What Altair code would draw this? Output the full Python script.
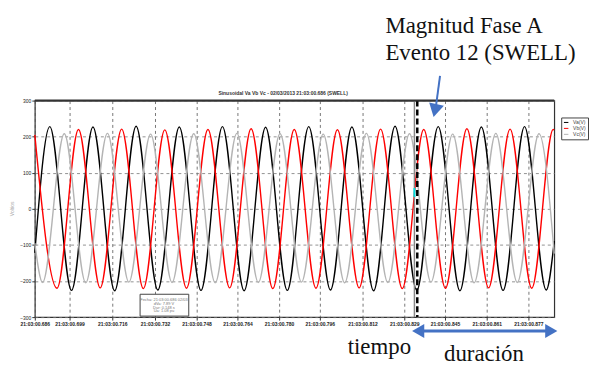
import altair as alt
import pandas as pd

# ---- data (time in ms, value in V) ----
series_names = ["Va(V)", "Vb(V)", "Vc(V)"]
series_colors = ["#000000", "#ff0000", "#b4b4b4"]

t_a = [0, 5.8, 14.2, 22.5, 30.9, 39.2, 47.6, 55.9, 64.3, 72.6, 81.0, 89.3, 97.7,
       106.0, 114.4, 122.7, 131.1, 139.4, 147.8, 156.1, 164.5, 172.8, 181.2, 189.5, 197.9, 201.0]
v_a = [-122, 228, -226, 227, -227, 229, -225, 227, -226, 228, -227, 226, -226,
       228, -225, 227, -227, 229, -226, 228, -227, 227, -226, 228, -225, -89]

t_b = [0, 8.6, 16.9, 25.3, 33.6, 42.0, 50.3, 58.7, 67.0, 75.4, 83.7, 92.1, 100.4,
       108.8, 117.1, 125.5, 133.8, 142.2, 150.5, 158.9, 167.2, 175.6, 183.9, 192.3, 200.6, 201.0]
v_b = [205, -220, 220, -219, 221, -221, 219, -220, 220, -219, 222, -221, 220,
       -220, 219, -219, 221, -221, 220, -220, 222, -219, 221, -220, 220, 219]

t_c = [0, 3.0, 11.4, 19.7, 28.1, 36.4, 44.8, 53.1, 61.5, 69.8, 78.2, 86.5, 94.9,
       103.2, 111.6, 119.9, 128.3, 136.6, 145.0, 153.3, 161.7, 170.0, 178.4, 186.7, 195.1, 201.0]
v_c = [-95, -204, 208, -205, 209, -203, 207, -204, 208, -205, 209, -204, 208,
       -203, 207, -205, 209, -204, 208, -203, 207, -205, 209, -204, 208, -124]

x_ticks = [0, 13.4, 30.0, 46.5, 62.6, 78.4, 94.5, 110.3, 126.8, 143.0, 158.7, 174.9, 191.0]
x_labels = ["21:03:00.686", "21:03:00.699", "21:03:00.716", "21:03:00.732", "21:03:00.748",
            "21:03:00.764", "21:03:00.780", "21:03:00.796", "21:03:00.812", "21:03:00.829",
            "21:03:00.845", "21:03:00.861", "21:03:00.877"]
y_ticks = [-300, -200, -100, 0, 100, 200, 300]

event_gray = [146.9]
event_black = [148.0]

info_lines = ["Fecha: 21:03:00.686 02/03", "dVa: 7.89 V", "Dur: 0.148 s", "Ua: 1.08 pu"]

rows = []
for name, ts, vs in zip(series_names, [t_a, t_b, t_c], [v_a, v_b, v_c]):
    for t, v in zip(ts, vs):
        rows.append({"fase": name, "t": t, "v": v})
df = pd.DataFrame(rows)

label_expr = " : ".join(
    f"abs(datum.value - {v}) < 0.05 ? '{l}'" for v, l in zip(x_ticks, x_labels)
) + " : ''"

W, H = 523, 218
xscale = alt.Scale(domain=[0, 201], nice=False)
yscale = alt.Scale(domain=[-300, 300], nice=False)

lines = alt.Chart(df).mark_line(strokeWidth=1.4, interpolate="monotone").encode(
    x=alt.X("t:Q", scale=xscale,
            axis=alt.Axis(values=x_ticks, labelExpr=label_expr, title=None,
                          labelFontSize=5, labelColor="#222", labelFontWeight="bold",
                          tickSize=3, tickColor="#333", domain=False,
                          grid=True, gridDash=[3, 3], gridColor="#555", gridWidth=0.8,
                          labelPadding=1, labelFlush=False)),
    y=alt.Y("v:Q", scale=yscale,
            axis=alt.Axis(values=y_ticks, title=None, labelFontSize=5, labelColor="#222",
                          tickSize=3, tickColor="#333", domain=False,
                          grid=True, gridDash=[3, 3], gridColor="#777", gridWidth=0.8,
                          labelPadding=1)),
    color=alt.Color("fase:N",
                    scale=alt.Scale(domain=series_names, range=series_colors),
                    legend=alt.Legend(title=None, orient="none", legendX=530, legendY=17,
                                      symbolType="stroke", symbolSize=20, symbolStrokeWidth=1,
                                      labelFontSize=5, labelColor="#444", rowPadding=0,
                                      padding=2, strokeColor="#444", fillColor="white",
                                      labelLimit=40)),
    detail="fase:N",
)

ev_g = alt.Chart(pd.DataFrame({"t": event_gray})).mark_rule(
    color="#888", strokeWidth=1.5).encode(x=alt.X("t:Q", scale=xscale))
ev_b = alt.Chart(pd.DataFrame({"t": event_black})).mark_rule(
    color="#000", strokeWidth=2.5, strokeDash=[6, 3]).encode(x=alt.X("t:Q", scale=xscale))
cyan = alt.Chart(pd.DataFrame({"t": event_gray})).mark_rule(
    color="#00e0e0", strokeWidth=2).encode(x=alt.X("t:Q", scale=xscale),
                                            y=alt.value(88), y2=alt.value(97))

one = pd.DataFrame({"k": [0]})
top_border = alt.Chart(one).mark_rule(color="#333", strokeWidth=2).encode(
    x=alt.value(0), x2=alt.value(W), y=alt.value(0))

box = alt.Chart(one).mark_rect(fill="white", stroke="#444", strokeWidth=1).encode(
    x=alt.value(106), x2=alt.value(155), y=alt.value(195), y2=alt.value(217))
box_txt = alt.Chart(pd.DataFrame({"s": info_lines, "i": [0, 1, 2, 3]})).mark_text(
    fontSize=4, color="#777", align="center", baseline="middle").encode(
    x=alt.value(130), y=alt.Y("i:O", scale=alt.Scale(range=[199, 214]), axis=None), text="s:N")

title = alt.Chart(one).mark_text(
    text="Sinusoidal Va Vb Vc - 02/03/2013 21:03:00.686 (SWELL)", fontSize=5,
    fontWeight="bold", color="#333", align="center").encode(x=alt.value(250), y=alt.value(-8))
ytitle = alt.Chart(one).mark_text(
    text="Voltios", fontSize=5, color="#aaa", angle=270, align="center").encode(
    x=alt.value(-23), y=alt.value(109))

serif = "Liberation Serif"
t1 = alt.Chart(one).mark_text(text="Magnitud Fase A", font=serif, fontSize=23, color="#111",
                              align="left", baseline="alphabetic").encode(
    x=alt.value(353), y=alt.value(-68))
t2 = alt.Chart(one).mark_text(text="Evento 12 (SWELL)", font=serif, fontSize=23, color="#111",
                              align="left", baseline="alphabetic").encode(
    x=alt.value(353), y=alt.value(-41))
t3 = alt.Chart(one).mark_text(text="tiempo", font=serif, fontSize=23, color="#111",
                              align="left", baseline="alphabetic").encode(
    x=alt.value(315), y=alt.value(255))
t4 = alt.Chart(one).mark_text(text="duración", font=serif, fontSize=23, color="#111",
                              align="left", baseline="alphabetic").encode(
    x=alt.value(412), y=alt.value(262))

blue = "#4472C4"
shaft1 = alt.Chart(one).mark_rule(color=blue, strokeWidth=2).encode(
    x=alt.value(408), y=alt.value(-25), x2=alt.value(404), y2=alt.value(5))
head1 = alt.Chart(one).mark_point(shape="triangle-up", angle=193, size=230, filled=True,
                                  color=blue, opacity=1).encode(
    x=alt.value(403), y=alt.value(10))
shaft2 = alt.Chart(one).mark_rule(color=blue, strokeWidth=3).encode(
    x=alt.value(386), x2=alt.value(520), y=alt.value(232))
head2 = alt.Chart(one).mark_point(shape="triangle-left", size=200, filled=True,
                                  color=blue, opacity=1).encode(
    x=alt.value(386), y=alt.value(232))
head3 = alt.Chart(one).mark_point(shape="triangle-right", size=200, filled=True,
                                  color=blue, opacity=1).encode(
    x=alt.value(520), y=alt.value(232))

chart = alt.layer(
    lines, ev_g, ev_b, cyan, top_border, box, box_txt, title, ytitle,
    t1, t2, t3, t4, shaft1, head1, shaft2, head2, head3
).resolve_scale(y="shared").properties(
    width=W, height=H,
    autosize=alt.AutoSizeParams(type="none"),
    padding={"left": 27, "top": 92, "right": 35, "bottom": 47},
    background="white",
).configure_view(stroke="#333", strokeWidth=1.2)

chart.save("out.html", embed_options={"renderer": "svg", "actions": False})
